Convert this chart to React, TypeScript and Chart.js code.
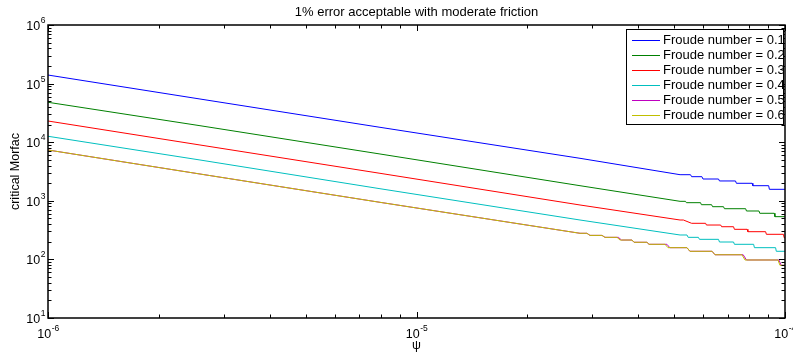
import React, { useEffect, useRef } from "react";
import { Chart, registerables } from "chart.js";

Chart.register(...registerables);

const chartTitle = "1% error acceptable with moderate friction";
const xAxisTitle = "ψ";
const yAxisTitle = "critical Morfac";

const seriesLabels = [
  "Froude number = 0.1",
  "Froude number = 0.2",
  "Froude number = 0.3",
  "Froude number = 0.4",
  "Froude number = 0.5",
  "Froude number = 0.6",
];
const seriesColors = ["#0000ff", "#008000", "#ff0000", "#00bfbf", "#bf00bf", "#bfbf00"];

// Froude 0.1
const psiFr01 = [1e-6, 2.585e-6, 7.96e-6, 2.778e-5, 5.19e-5, 5.54e-5, 5.58e-5, 5.95e-5, 5.99e-5, 6.6e-5, 6.64e-5, 7.34e-5, 7.38e-5, 8.14e-5, 8.18e-5, 9.03e-5, 9.07e-5, 1e-4];
const morfacFr01 = [140000, 54600, 17950, 5310, 2790, 2790, 2580, 2580, 2355, 2355, 2180, 2180, 1990, 1990, 1810, 1810, 1570, 1570];

// Froude 0.2
const psiFr02 = [1e-6, 2.585e-6, 7.96e-6, 2.778e-5, 5.19e-5, 5.37e-5, 5.4e-5, 5.9e-5, 5.93e-5, 6.32e-5, 6.36e-5, 6.81e-5, 6.85e-5, 7.82e-5, 7.86e-5, 8.5e-5, 8.54e-5, 9.35e-5, 9.39e-5, 1e-4];
const morfacFr02 = [47970, 19130, 6290, 1810, 980, 980, 929, 929, 858, 858, 793, 793, 733, 733, 670, 670, 612, 612, 536, 536];

// Froude 0.3
const psiFr03 = [1e-6, 2.585e-6, 7.96e-6, 2.778e-5, 5.19e-5, 5.3e-5, 5.58e-5, 6.09e-5, 6.12e-5, 6.69e-5, 6.73e-5, 7.25e-5, 7.29e-5, 7.89e-5, 7.93e-5, 8.86e-5, 8.9e-5, 9.9e-5, 9.95e-5, 1e-4];
const morfacFr03 = [23000, 8960, 2945, 848, 470, 470, 413, 413, 386, 386, 361, 361, 326, 326, 297, 297, 268, 268, 234, 234];

// Froude 0.4
const psiFr04 = [1e-6, 2.585e-6, 7.96e-6, 2.778e-5, 5.19e-5, 5.42e-5, 5.46e-5, 5.82e-5, 5.86e-5, 6.6e-5, 6.64e-5, 7.25e-5, 7.29e-5, 8.22e-5, 8.26e-5, 9.43e-5, 9.47e-5, 1e-4];
const morfacFr04 = [12620, 4970, 1608, 470, 261, 261, 238, 238, 220, 220, 198, 198, 181, 181, 158.5, 158.5, 137.5, 137.5];

// Froude 0.5
const psiFr05 = [1e-6, 2.585e-6, 7.96e-6, 2.778e-5, 2.9e-5, 2.957e-5, 3.187e-5, 3.247e-5, 3.53e-5, 3.6e-5, 3.844e-5, 3.892e-5, 4.22e-5, 4.275e-5, 4.78e-5, 4.87e-5, 5.42e-5, 5.52e-5, 6.34e-5, 6.457e-5, 7.7e-5, 7.86e-5, 9.63e-5, 9.76e-5, 1e-4];
const morfacFr05 = [7360, 2866, 942, 279, 279, 257, 257, 238, 238, 214, 214, 196, 196, 181, 181, 158.5, 158.5, 137.5, 137.5, 120, 120, 97.7, 97.7, 79.3, 79.3];

// Froude 0.6
const psiFr06 = [1e-6, 2.585e-6, 7.96e-6, 2.778e-5, 2.9e-5, 2.957e-5, 3.187e-5, 3.247e-5, 3.5e-5, 3.567e-5, 3.844e-5, 3.892e-5, 4.22e-5, 4.275e-5, 4.725e-5, 4.814e-5, 5.42e-5, 5.52e-5, 6.34e-5, 6.457e-5, 7.64e-5, 7.79e-5, 9.57e-5, 9.69e-5, 1e-4];
const morfacFr06 = [7360, 2866, 942, 279, 279, 257, 257, 238, 238, 214, 214, 196, 196, 181, 181, 158.5, 158.5, 137.5, 137.5, 120, 120, 97.7, 97.7, 79.3, 79.3];

// tick values and their exponent labels (drawn as 10 with a raised exponent)
const xTickValues = [1e-6, 1e-5, 1e-4];
const xTickExponents = ["-6", "-5", "-4"];
const yTickValues = [10, 100, 1000, 10000, 100000, 1000000];
const yTickExponents = ["1", "2", "3", "4", "5", "6"];

const FONT = "'Liberation Sans', Arial, Helvetica, sans-serif";

const framePlugin = {
  id: "matlabFrame",
  afterDatasetsDraw(chart: any) {
    const { ctx, chartArea } = chart;
    const { left, right, top, bottom } = chartArea;
    const xs = chart.scales.x;
    const ys = chart.scales.y;
    ctx.save();
    ctx.strokeStyle = "#000";
    ctx.lineWidth = 1;
    ctx.beginPath();
    for (let e = -6; e <= -4; e++) {
      for (let m = 1; m <= 9; m++) {
        if (e === -4 && m > 1) break;
        const v = m * Math.pow(10, e);
        const px = Math.round(xs.getPixelForValue(v)) + 0.5;
        const len = m === 1 ? 6 : 3.5;
        ctx.moveTo(px, bottom);
        ctx.lineTo(px, bottom - len);
        ctx.moveTo(px, top);
        ctx.lineTo(px, top + len);
      }
    }
    for (let e = 1; e <= 6; e++) {
      for (let m = 1; m <= 9; m++) {
        if (e === 6 && m > 1) break;
        const v = m * Math.pow(10, e);
        const py = Math.round(ys.getPixelForValue(v)) + 0.5;
        const len = m === 1 ? 6 : 3.5;
        ctx.moveTo(left, py);
        ctx.lineTo(left + len, py);
        ctx.moveTo(right, py);
        ctx.lineTo(right - len, py);
      }
    }
    ctx.stroke();
    ctx.lineWidth = 1.5;
    ctx.strokeRect(left, top, right - left, bottom - top);

    // tick labels: "10" with superscript exponent, positioned from the scales
    ctx.fillStyle = "#000";
    ctx.textBaseline = "alphabetic";
    const baseFont = `12.5px ${FONT}`;
    const expFont = `8.5px ${FONT}`;
    xTickValues.forEach((v, i) => {
      const px = xs.getPixelForValue(v);
      ctx.font = baseFont;
      const bw = ctx.measureText("10").width;
      ctx.font = expFont;
      const ew = ctx.measureText(xTickExponents[i]).width;
      const start = px - (bw + ew) / 2;
      ctx.font = baseFont;
      ctx.textAlign = "left";
      ctx.fillText("10", start, bottom + 20);
      ctx.font = expFont;
      ctx.fillText(xTickExponents[i], start + bw + 0.5, bottom + 12.5);
    });
    yTickValues.forEach((v, i) => {
      const py = ys.getPixelForValue(v);
      ctx.font = expFont;
      const ew = ctx.measureText(yTickExponents[i]).width;
      const rightEdge = left - 2.5;
      ctx.textAlign = "left";
      ctx.fillText(yTickExponents[i], rightEdge - ew, py - 2);
      ctx.font = baseFont;
      ctx.textAlign = "right";
      ctx.fillText("10", rightEdge - ew - 0.5, py + 5);
    });
    ctx.restore();
  },
};

const legendPlugin = {
  id: "insideLegend",
  afterDraw(chart: any) {
    const { ctx, chartArea } = chart;
    const datasets = chart.data.datasets;
    const boxRight = chartArea.right - 1;
    const boxLeft = boxRight - 158;
    const boxTop = chartArea.top + 4;
    const rowH = 15;
    const boxH = 96;
    ctx.save();
    ctx.fillStyle = "#fff";
    ctx.fillRect(boxLeft, boxTop, boxRight - boxLeft, boxH);
    ctx.strokeStyle = "#000";
    ctx.lineWidth = 1;
    ctx.strokeRect(boxLeft + 0.5, boxTop + 0.5, boxRight - boxLeft - 1, boxH - 1);
    ctx.font = `13px ${FONT}`;
    ctx.textBaseline = "middle";
    ctx.textAlign = "left";
    datasets.forEach((ds: any, i: number) => {
      const cy = boxTop + 11 + i * rowH;
      ctx.strokeStyle = ds.borderColor;
      ctx.lineWidth = 1;
      ctx.beginPath();
      ctx.moveTo(boxLeft + 6, Math.round(cy) + 0.5);
      ctx.lineTo(boxLeft + 34, Math.round(cy) + 0.5);
      ctx.stroke();
      ctx.fillStyle = "#000";
      ctx.fillText(ds.label, boxLeft + 37, cy);
    });
    ctx.restore();
  },
};

const psiSeries = [psiFr01, psiFr02, psiFr03, psiFr04, psiFr05, psiFr06];
const morfacSeries = [morfacFr01, morfacFr02, morfacFr03, morfacFr04, morfacFr05, morfacFr06];

export default function App() {
  const canvasRef = useRef<HTMLCanvasElement | null>(null);

  useEffect(() => {
    if (!canvasRef.current) return;
    const datasets = seriesLabels.map((label, i) => ({
      label,
      data: psiSeries[i].map((p, j) => ({ x: p, y: morfacSeries[i][j] })),
      borderColor: seriesColors[i],
      backgroundColor: seriesColors[i],
      borderWidth: 1,
      pointRadius: 0,
      fill: false,
      tension: 0,
      order: 6 - i,
    }));

    const chart = new Chart(canvasRef.current, {
      type: "line",
      data: { datasets },
      options: {
        responsive: false,
        animation: false,
        devicePixelRatio: 1,
        layout: { padding: { left: 0, right: 8, top: 0, bottom: 0 } },
        plugins: {
          legend: { display: false },
          tooltip: { enabled: false },
          title: {
            display: true,
            text: chartTitle,
            color: "#000",
            fullSize: false,
            font: { family: FONT, size: 13, weight: "normal" },
            padding: { top: 4.5, bottom: 4.9 },
          },
        },
        scales: {
          x: {
            type: "logarithmic",
            min: 1e-6,
            max: 1e-4,
            grid: { display: false, drawTicks: false },
            border: { display: false },
            afterBuildTicks: (scale: any) => {
              scale.ticks = xTickValues.map((v) => ({ value: v, major: true }));
            },
            afterFit: (scale: any) => {
              scale.height = 40;
              scale.paddingLeft = 0;
              scale.paddingRight = 0;
            },
            ticks: { display: false },
            title: {
              display: true,
              text: xAxisTitle,
              color: "#000",
              font: { family: FONT, size: 12.5 },
              padding: { top: 0, bottom: 5 },
            },
          },
          y: {
            type: "logarithmic",
            min: 10,
            max: 1e6,
            grid: { display: false, drawTicks: false },
            border: { display: false },
            afterBuildTicks: (scale: any) => {
              scale.ticks = yTickValues.map((v) => ({ value: v, major: true }));
            },
            afterFit: (scale: any) => {
              scale.width = 48;
              scale.paddingTop = 0;
              scale.paddingBottom = 0;
            },
            ticks: { display: false },
            title: {
              display: true,
              text: yAxisTitle,
              color: "#000",
              font: { family: FONT, size: 12.5 },
              padding: { top: 8, bottom: 0 },
            },
          },
        },
      },
      plugins: [framePlugin, legendPlugin],
    } as any);

    return () => chart.destroy();
  }, []);

  return (
    <div style={{ position: "absolute", left: 0, top: 0, width: 793, height: 358, background: "#fff" }}>
      <canvas ref={canvasRef} width={793} height={358} style={{ width: 793, height: 358 }} />
    </div>
  );
}
